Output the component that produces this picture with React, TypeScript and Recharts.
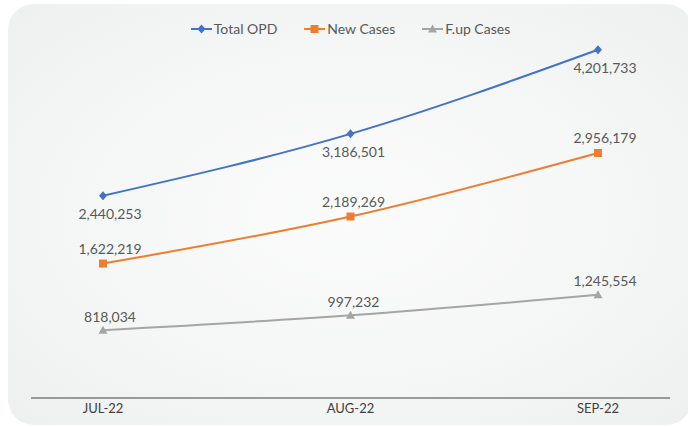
import React from 'react';
import { LineChart, Line, XAxis, YAxis, Legend, LabelList } from 'recharts';

const months = ['JUL-22', 'AUG-22', 'SEP-22'];
const totalOPD = [2440253, 3186501, 4201733];
const newCases = [1622219, 2189269, 2956179];
const fupCases = [818034, 997232, 1245554];

const seriesNames = ['Total OPD', 'New Cases', 'F.up Cases'];
const colors = ['#4472C4', '#ED7D31', '#A5A5A5'];

const data = months.map((m, i) => ({
  month: m,
  total: totalOPD[i],
  newc: newCases[i],
  fup: fupCases[i],
}));

const FONT = 'Lato, "Open Sans", sans-serif';
const labelDx = [7, 3, 7];

const fmt = (v: number) => v.toLocaleString('en-US');

const makeLabel = (dy: number) => (props: any) => {
  const { x, y, value, index } = props;
  return (
    <text
      x={x + (labelDx[index] ?? 0)}
      y={y + dy}
      textAnchor="middle"
      dominantBaseline="central"
      fill="#595959"
      fontSize={14}
      fontFamily={FONT}
    >
      {fmt(value)}
    </text>
  );
};

const Diamond = ({ cx, cy, color }: any) => (
  <path d={`M${cx},${cy - 4.5} L${cx + 4},${cy} L${cx},${cy + 4.5} L${cx - 4},${cy} Z`} fill={color} />
);
const Square = ({ cx, cy, color }: any) => (
  <rect x={cx - 4} y={cy - 4} width={8} height={8} fill={color} />
);
const Triangle = ({ cx, cy, color }: any) => (
  <path d={`M${cx},${cy - 4.5} L${cx + 4.5},${cy + 3.5} L${cx - 4.5},${cy + 3.5} Z`} fill={color} />
);

const markers = [Diamond, Square, Triangle];

const dotFor = (k: number) => (props: any) => {
  const M = markers[k];
  return <M key={`${k}-${props.index}`} cx={props.cx} cy={props.cy} color={colors[k]} />;
};

const LegendContent = () => (
  <div
    style={{
      display: 'flex',
      justifyContent: 'center',
      alignItems: 'center',
      gap: 27,
      fontFamily: FONT,
      fontSize: 14,
      color: '#595959',
      lineHeight: '18px',
    }}
  >
    {seriesNames.map((n, k) => {
      const M = markers[k];
      return (
        <div key={n} style={{ display: 'flex', alignItems: 'center' }}>
          <svg width={21} height={12} style={{ marginRight: 2 }}>
            <line x1={0} y1={6} x2={21} y2={6} stroke={colors[k]} strokeWidth={2} />
            <M cx={10.5} cy={6} color={colors[k]} />
          </svg>
          <span>{n}</span>
        </div>
      );
    })}
  </div>
);

export default function App() {
  return (
    <div style={{ position: 'absolute', left: 0, top: 0, width: 688, height: 427, overflow: 'hidden' }}>
      <div
        style={{
          position: 'absolute',
          left: 8,
          top: 4,
          width: 684,
          height: 421,
          borderRadius: 26,
          background: 'radial-gradient(ellipse at 50% 50%, #fbfbfb 0%, #f5f6f6 55%, #eeefef 100%)',
        }}
      />
      <div style={{ position: 'absolute', left: 0, top: 0 }}>
        <LineChart width={688} height={427} data={data} margin={{ top: 25, right: 18, bottom: 0, left: 31 }}>
          <XAxis
            dataKey="month"
            height={29}
            padding={{ left: 72, right: 72 }}
            axisLine={{ stroke: '#404040', strokeWidth: 1 }}
            tickLine={false}
            tickSize={0}
            tickMargin={6}
            tick={{ fill: '#404040', fontSize: 13, fontFamily: FONT }}
            interval={0}
          />
          <YAxis hide domain={[0, 4500000]} />
          <Legend
            layout="horizontal"
            verticalAlign="middle"
            align="center"
            content={<LegendContent />}
            wrapperStyle={{ top: 20, left: 31, width: 639 }}
          />
          <Line
            type="monotone"
            dataKey="total"
            name={seriesNames[0]}
            stroke={colors[0]}
            strokeWidth={2}
            dot={dotFor(0)}
            activeDot={false}
            isAnimationActive={false}
          >
            <LabelList dataKey="total" content={makeLabel(18)} />
          </Line>
          <Line
            type="monotone"
            dataKey="newc"
            name={seriesNames[1]}
            stroke={colors[1]}
            strokeWidth={2}
            dot={dotFor(1)}
            activeDot={false}
            isAnimationActive={false}
          >
            <LabelList dataKey="newc" content={makeLabel(-15)} />
          </Line>
          <Line
            type="monotone"
            dataKey="fup"
            name={seriesNames[2]}
            stroke={colors[2]}
            strokeWidth={2}
            dot={dotFor(2)}
            activeDot={false}
            isAnimationActive={false}
          >
            <LabelList dataKey="fup" content={makeLabel(-14)} />
          </Line>
        </LineChart>
      </div>
    </div>
  );
}
